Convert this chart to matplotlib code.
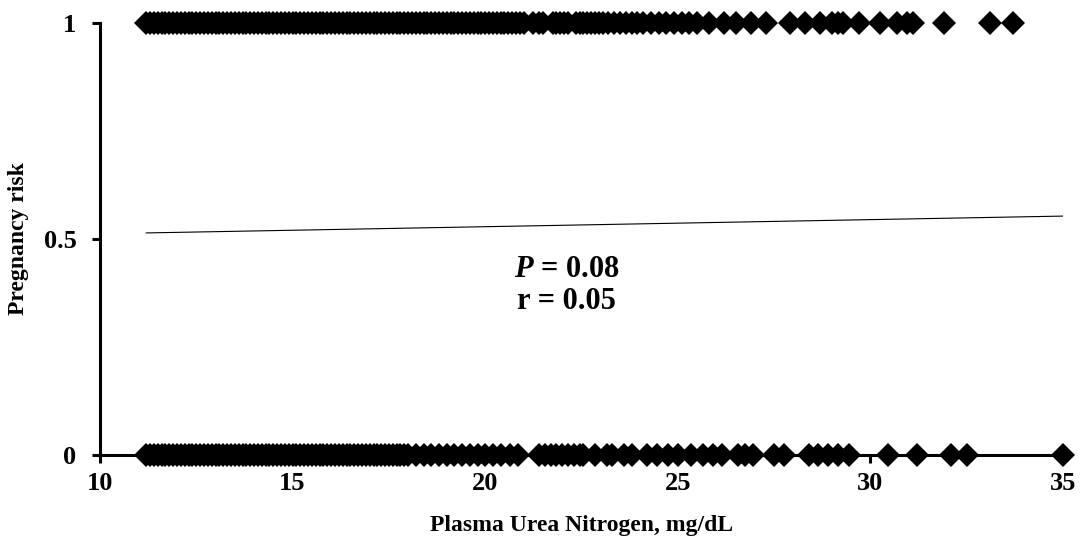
import numpy as np
import matplotlib
matplotlib.use("Agg")
import matplotlib.pyplot as plt

plt.rcParams['font.family'] = ['Liberation Serif', 'DejaVu Serif']
plt.rcParams['font.weight'] = 'bold'
plt.rcParams['mathtext.fontset'] = 'custom'
plt.rcParams['mathtext.it'] = 'Liberation Serif:italic:bold'
plt.rcParams['mathtext.rm'] = 'Liberation Serif:bold'

# urea nitrogen of cows that got pregnant (risk = 1)
bun_preg = [
    11.2, 11.3, 11.4, 11.5, 11.6, 11.7, 11.8, 11.9, 12.0, 12.1, 12.2, 12.3,
    12.4, 12.5, 12.6, 12.7, 12.8, 12.9, 13.0, 13.1, 13.2, 13.3, 13.4, 13.5,
    13.6, 13.7, 13.8, 13.9, 14.0, 14.1, 14.2, 14.3, 14.4, 14.5, 14.6, 14.7,
    14.8, 14.9, 15.0, 15.1, 15.2, 15.3, 15.4, 15.5, 15.6, 15.7, 15.8, 15.9,
    16.0, 16.1, 16.2, 16.3, 16.4, 16.5, 16.6, 16.7, 16.8, 16.9, 17.0, 17.1,
    17.2, 17.3, 17.4, 17.5, 17.6, 17.7, 17.8, 17.9, 18.0, 18.1, 18.2, 18.3,
    18.4, 18.5, 18.6, 18.7, 18.8, 18.9, 19.0, 19.1, 19.2, 19.3, 19.4, 19.5,
    19.6, 19.7, 19.8, 19.9, 20.0, 20.1, 20.2, 20.3, 20.4, 20.5, 20.6, 20.7,
    20.8, 20.9, 21.0, 21.25, 21.4, 21.5, 21.75, 21.85, 21.95, 22.05, 22.15,
    22.35, 22.45, 22.55, 22.65, 22.75, 22.85, 22.95, 23.05, 23.2, 23.35,
    23.5, 23.65, 23.8, 23.95, 24.1, 24.3, 24.5, 24.7, 24.9, 25.1, 25.3, 25.5,
    25.8, 26.2, 26.5, 26.9, 27.3,
    27.9, 28.3, 28.7, 29.0, 29.15, 29.3, 29.7, 30.25, 30.7, 30.95, 31.1,
    31.9, 33.1, 33.7,
]

# urea nitrogen of cows that did not get pregnant (risk = 0)
bun_open = [
    11.2, 11.3, 11.4, 11.5, 11.6, 11.7, 11.8, 11.9, 12.0, 12.1, 12.2, 12.3,
    12.4, 12.5, 12.6, 12.7, 12.8, 12.9, 13.0, 13.1, 13.2, 13.3, 13.4, 13.5,
    13.6, 13.7, 13.8, 13.9, 14.0, 14.1, 14.2, 14.3, 14.4, 14.5, 14.6, 14.7,
    14.8, 14.9, 15.0, 15.1, 15.2, 15.3, 15.4, 15.5, 15.6, 15.7, 15.8, 15.9,
    16.0, 16.1, 16.2, 16.3, 16.4, 16.5, 16.6, 16.7, 16.8, 16.9, 17.0, 17.1,
    17.2, 17.3, 17.4, 17.5, 17.6, 17.7, 17.8, 17.9, 18.0, 18.2, 18.4, 18.6,
    18.8, 19.0, 19.2, 19.4, 19.6, 19.8, 20.0, 20.2, 20.4, 20.65, 20.85,
    21.4, 21.55, 21.7, 21.85, 22.0, 22.15, 22.3, 22.45, 22.55, 22.85, 23.15,
    23.3, 23.6, 23.8, 24.2, 24.45, 24.75, 25.0, 25.35, 25.65, 25.9, 26.15,
    26.55, 26.75, 26.95, 27.5, 27.75, 28.4, 28.65, 28.9, 29.15, 29.45,
    30.45, 31.2, 32.1, 32.5, 35.0,
]

# fitted regression line (end points)
fit_x = [11.2, 35.0]
fit_y = [0.514, 0.553]

x_ticks = [10, 15, 20, 25, 30, 35]
y_ticks = [0, 0.5, 1]
y_tick_labels = ['0', '0.5', '1']

fig = plt.figure(figsize=(10.81, 5.47), dpi=100)
ax = fig.add_axes([0.0925, 0.1682, 0.8909, 0.7898])

ax.plot(fit_x, fit_y, color='black', lw=0.8)
ax.plot(bun_preg, np.ones(len(bun_preg)), 'D', color='black', ms=12,
        mew=0, clip_on=False)
ax.plot(bun_open, np.zeros(len(bun_open)), 'D', color='black', ms=12,
        mew=0, clip_on=False)

ax.set_xlim(10, 35)
ax.set_ylim(0, 1)
ax.set_xticks(x_ticks)
ax.set_yticks(y_ticks)
ax.set_yticklabels(y_tick_labels)

for s in ['top', 'right']:
    ax.spines[s].set_visible(False)
for s in ['left', 'bottom']:
    ax.spines[s].set_linewidth(2.2)
ax.tick_params(axis='both', direction='out', width=2.2, length=6, labelsize=19)
ax.tick_params(axis='y', pad=11)
ax.tick_params(axis='x', pad=6)

ax.set_xlabel('Plasma Urea Nitrogen, mg/dL', fontsize=17, fontweight='bold')
ax.set_ylabel('Pregnancy risk', fontsize=17, fontweight='bold')
ax.xaxis.set_label_coords(0.5, -0.14)
ax.yaxis.set_label_coords(-0.0737, 0.5)

ax.text(22.12, 0.43, '$P$ = 0.08', fontsize=22, fontweight='bold',
        ha='center', va='center')
ax.text(22.12, 0.355, 'r = 0.05', fontsize=22, fontweight='bold',
        ha='center', va='center')

fig.savefig('out.png', dpi=100)
